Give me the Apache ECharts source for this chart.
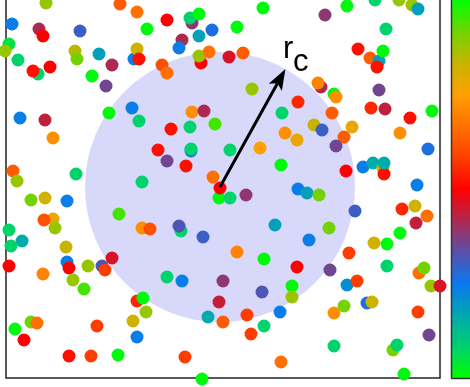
<!DOCTYPE html>
<html>
<head>
<meta charset="utf-8">
<script src="https://cdn.jsdelivr.net/npm/echarts@6/dist/echarts.min.js"></script>
<style>
  html, body { margin: 0; padding: 0; background: #fff; }
  #chart { width: 470px; height: 387px; }
</style>
</head>
<body>
<div id="chart"></div>
<script>
// box side length (same units on both axes)
const boxSize = 43.4

// capture circle and the r_c arrow
const circleCenter = [21.4, 19.1]
const circleRadius = 13.5
const rcAngle = 61 // degrees

// cyclic phase colormap, 0 -> 1 (bottom -> top of colour bar)
const phaseColors = [
  '#00ff00', '#00d070', '#00a8b0', '#0a78f0', '#5a50a8', '#b02850', '#ff0000',
  '#ff4000', '#ff7000', '#ffa000', '#c8b400', '#70d400', '#00ff00'
]

// particles: [x, y, phase]
const particles = [
  [4.0, 37.5, .88], [11.4, 37.4, .63], [13.1, 36.6, .667], [0.6, 35.4, .24],
  [3.3, 34.9, .415], [3.7, 34.2, .5], [7.4, 34.7, .30], [16.1, 35.8, .5],
  [18.6, 35.5, .385], [18.4, 36.0, .08], [19.3, 36.4, .01], [20.6, 34.8, .27],
  [14.1, 34.9, .01], [23.1, 35.1, .01], [0.3, 33.4, .05], [-0.1, 32.7, .88],
  [6.9, 32.7, .85], [7.1, 31.9, .915], [9.3, 32.4, .18], [12.8, 31.9, .24],
  [13.1, 32.9, .83], [13.3, 31.9, .52], [17.6, 33.8, .415], [17.3, 33.0, .24],
  [19.3, 34.2, .18], [19.5, 31.5, .5], [19.3, 32.2, .88], [20.3, 32.6, .667],
  [22.3, 32.1, .46], [1.2, 31.8, .08], [3.2, 30.4, .08], [2.7, 30.7, .52],
  [4.4, 31.1, .5], [10.6, 31.3, .415], [8.6, 30.2, .01], [10.0, 29.2, .355],
  [15.6, 31.3, .61], [16.1, 30.5, .667], [10.3, 26.5, .01], [12.6, 27.0, .24],
  [13.3, 25.7, .08], [18.6, 26.6, .72], [19.8, 26.7, .415], [20.9, 25.4, .95],
  [1.4, 26.0, .24], [3.9, 25.8, .435], [4.7, 24.0, .72], [16.5, 24.9, .52],
  [18.4, 25.1, .08], [15.2, 22.8, .52], [18.5, 22.7, .24], [18.5, 22.9, .08],
  [16.1, 21.7, .355], [18.0, 21.2, .52], [22.4, 22.8, .08], [20.7, 20.1, .667],
  [0.7, 20.7, .63], [1.1, 19.7, .88], [7.0, 20.4, .08], [13.6, 19.6, .08],
  [25.7, 37.0, .01], [31.9, 36.3, .385], [34.1, 37.2, .01], [36.9, 37.8, .08],
  [39.3, 37.8, .88], [40.6, 37.3, .88], [41.2, 36.9, .18], [38.0, 34.9, .08],
  [23.7, 32.5, .63], [35.2, 32.9, .52], [36.4, 32.0, .63], [37.3, 31.7, .18],
  [37.7, 32.7, .01], [37.1, 31.1, .52], [31.5, 29.1, .415], [31.2, 29.5, .70],
  [32.8, 28.4, .01], [33.0, 28.1, .72], [37.3, 28.8, .355], [24.6, 28.9, .88],
  [29.2, 27.6, .55], [27.6, 26.5, .08], [32.6, 26.5, .63], [36.5, 27.0, .55],
  [37.9, 26.9, .435], [42.6, 26.7, .01], [40.4, 26.0, .52], [27.9, 24.5, .72],
  [29.1, 23.8, .78], [30.8, 25.3, .83], [31.6, 24.8, .30], [34.6, 25.1, .78],
  [33.8, 24.1, .63], [33.0, 23.2, .355], [39.4, 24.5, .72], [42.2, 22.9, .27],
  [25.4, 23.0, .75], [27.5, 21.3, .01], [34.0, 20.7, .5], [35.7, 21.1, .24],
  [36.7, 21.5, .16], [37.7, 21.0, .82], [37.8, 20.4, .52], [37.8, 21.5, .16],
  [41.1, 19.3, .24], [29.2, 18.9, .24], [30.1, 18.5, .18], [31.3, 18.3, .915],
  [24.0, 18.3, .385],
  [34.9, 16.7, .30], [39.6, 16.9, .55], [40.9, 17.2, .82], [42.1, 16.2, .667],
  [41.0, 15.5, .435], [26.9, 15.3, .18], [32.3, 15.0, .915], [30.3, 13.8, .24],
  [23.1, 12.6, .70], [25.8, 11.9, .01], [29.1, 11.1, .5], [32.4, 10.8, .355],
  [34.3, 12.5, .58], [36.8, 13.5, .82], [38.1, 13.4, .01], [39.4, 14.5, .01],
  [38.1, 11.2, .08], [41.3, 10.5, .667], [41.8, 11.0, .915], [42.5, 9.2, .88],
  [43.4, 9.2, .46], [28.6, 9.2, .01], [28.6, 8.1, .88], [25.6, 8.6, .32],
  [34.1, 9.3, .21], [35.1, 9.7, .58], [36.1, 7.5, .27], [36.6, 7.6, .82],
  [33.8, 7.2, .915], [32.8, 6.5, .72], [27.4, 6.6, .24], [24.1, 6.3, .58],
  [25.8, 5.2, .08], [24.5, 4.4, .58], [41.2, 6.6, .58], [42.3, 4.3, .355],
  [38.7, 2.8, .915], [39.1, 3.3, .08], [32.8, 3.2, .08], [27.5, 1.6, .667],
  [39.8, 0.4, .01],
  [2.5, 17.8, .915], [3.9, 18.0, .82], [6.1, 17.7, .24], [21.3, 18.0, .01],
  [22.4, 18.0, .08], [11.3, 16.4, .95], [4.7, 15.9, .78], [3.8, 15.8, .61],
  [4.9, 15.0, .88], [0.3, 14.8, .08], [1.6, 13.7, .16], [0.5, 13.2, .08],
  [6.0, 13.1, .83], [0.3, 11.2, .5], [3.7, 10.4, .70], [6.1, 11.6, .24],
  [6.3, 11.0, .5], [8.2, 11.2, .88], [9.6, 11.2, .32], [9.9, 10.8, .58],
  [10.6, 12.0, .46], [6.7, 9.8, .88], [7.8, 8.9, .95], [13.6, 15.0, .72],
  [14.4, 14.9, .61], [17.5, 14.7, .08], [17.3, 15.2, .32], [19.7, 14.1, .30],
  [16.1, 10.1, .08], [17.6, 9.7, .24], [21.7, 9.7, .385], [21.3, 7.6, .44],
  [20.2, 6.1, .16], [21.7, 5.6, .63], [13.1, 7.7, .55], [13.7, 8.0, .01],
  [14.0, 6.6, .88], [12.7, 5.7, .82], [13.1, 4.1, .24], [9.1, 5.2, .58],
  [2.5, 5.6, .915], [3.1, 5.5, .667], [0.9, 4.9, .01], [1.8, 3.8, .5],
  [6.3, 2.2, .52], [8.5, 2.2, .58], [11.2, 2.3, .01], [17.9, 2.1, .58],
  [19.6, -0.1, .01],
  [21.4, 19.0, .5]
]

const chart = echarts.init(document.getElementById('chart'), null, { renderer: 'canvas' })

const rad = rcAngle * Math.PI / 180
const arrowEnd = [
  circleCenter[0] + circleRadius * Math.cos(rad),
  circleCenter[1] + circleRadius * Math.sin(rad),
]

const option = {
  animation: false,
  grid: {
    show: true,
    left: 6,
    right: 30,
    top: -56,
    bottom: 9,
    outerBoundsMode: 'none',
    borderColor: '#222',
    borderWidth: 1.5,
    backgroundColor: 'transparent',
  },
  xAxis: { type: 'value', min: 0, max: boxSize, show: false },
  yAxis: { type: 'value', min: 0, max: boxSize, show: false },
  visualMap: {
    type: 'continuous',
    seriesIndex: 1,
    dimension: 2,
    min: 0,
    max: 1,
    calculable: false,
    hoverLink: false,
    padding: 0,
    left: 451,
    top: 0,
    itemWidth: 22,
    itemHeight: 378,
    text: ['', ''],
    inRange: { color: phaseColors },
  },
  graphic: [
    { type: 'line', shape: { x1: 451.5, y1: 0, x2: 451.5, y2: 378.5 }, style: { stroke: '#333', lineWidth: 1.5 }, z: 10 },
    { type: 'line', shape: { x1: 451, y1: 378.5, x2: 470, y2: 378.5 }, style: { stroke: '#333', lineWidth: 1.5 }, z: 10 },
    { type: 'text', x: 283, y: 34, z: 20, style: { text: 'r', font: '31px "Liberation Sans", Arial, sans-serif', fill: '#000', verticalAlign: 'top' } },
    { type: 'text', x: 293, y: 47, z: 20, style: { text: 'c', font: '31px "Liberation Sans", Arial, sans-serif', fill: '#000', verticalAlign: 'top' } },
  ],
  series: [
    {
      type: 'custom',
      z: 1,
      silent: true,
      data: [[circleCenter[0], circleCenter[1], circleRadius]],
      renderItem: (params, api) => {
        const c = api.coord([api.value(0), api.value(1)])
        const r = api.size([api.value(2), 0])[0]
        return { type: 'circle', shape: { cx: c[0], cy: c[1], r }, style: { fill: '#d8d8fa' } }
      },
    },
    {
      type: 'scatter',
      z: 2,
      clip: false,
      symbolSize: 13,
      data: particles,
      itemStyle: { opacity: 1 },
      emphasis: { disabled: true },
    },
    {
      type: 'custom',
      z: 3,
      silent: true,
      data: [[circleCenter[0], circleCenter[1], arrowEnd[0], arrowEnd[1]]],
      renderItem: (params, api) => {
        const s = api.coord([api.value(0), api.value(1)])
        const e = api.coord([api.value(2), api.value(3)])
        const dx = e[0] - s[0]
        const dy = e[1] - s[1]
        const len = Math.sqrt(dx * dx + dy * dy)
        const ux = dx / len
        const uy = dy / len
        const head = 21
        const half = 7.5
        const bx = e[0] - ux * head
        const by = e[1] - uy * head
        const nx = e[0] - ux * head * 0.78
        const ny = e[1] - uy * head * 0.78
        return {
          type: 'group',
          children: [
            {
              type: 'line',
              shape: { x1: s[0], y1: s[1], x2: nx, y2: ny },
              style: { stroke: '#000', lineWidth: 3 },
            },
            {
              type: 'polygon',
              shape: {
                points: [
                  [e[0], e[1]],
                  [bx - uy * half, by + ux * half],
                  [nx, ny],
                  [bx + uy * half, by - ux * half],
                ],
              },
              style: { fill: '#000' },
            },
          ],
        }
      },
    },
  ],
}

chart.setOption(option)
</script>
</body>
</html>
